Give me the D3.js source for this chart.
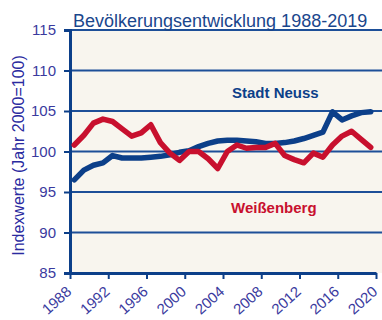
<!DOCTYPE html>
<html>
<head>
<meta charset="utf-8">
<script src="https://cdn.jsdelivr.net/npm/d3@7"></script>
<style>
  html, body { margin: 0; padding: 0; background: #ffffff; }
  svg { display: block; }
  text { font-family: "Liberation Sans", Arial, sans-serif; }
</style>
</head>
<body>
<svg id="chart" width="382" height="320"></svg>
<script>
// Population index (year 2000 = 100)
const years = d3.range(1988, 2020);
const neuss = [96.5, 97.7, 98.3, 98.6, 99.5, 99.2, 99.2, 99.2, 99.3, 99.4,
               99.6, 99.9, 100.1, 100.6, 101.0, 101.3, 101.4, 101.4, 101.3, 101.2,
               101.0, 101.0, 101.1, 101.3, 101.6, 102.0, 102.4, 104.9, 103.9, 104.4,
               104.8, 104.9];
const weissenberg = [100.8, 102.0, 103.5, 104.0, 103.7, 102.8, 101.9, 102.3, 103.3, 101.1,
                     99.8, 98.9, 100.0, 100.0, 99.1, 97.9, 100.0, 100.8, 100.4, 100.5,
                     100.5, 101.0, 99.5, 99.0, 98.6, 99.8, 99.3, 100.8, 101.9, 102.5,
                     101.5, 100.5];
const yTicks = [85, 90, 95, 100, 105, 110, 115];
const xTicks = [1988, 1992, 1996, 2000, 2004, 2008, 2012, 2016, 2020];

const svg = d3.select("#chart");
const plotLeft = 70, plotRight = 382, plotTop = 30, plotBottom = 273;

const x = d3.scaleLinear().domain([1988, 2020]).range([70, 376]);
const y = d3.scaleLinear().domain([85, 115]).range([plotBottom, plotTop]);

const blue = "#0c3f89", red = "#c8102e", labelCol = "#3a3a9e";

// plot background
svg.append("rect")
  .attr("x", plotLeft).attr("y", plotTop)
  .attr("width", plotRight - plotLeft).attr("height", plotBottom - plotTop)
  .attr("fill", "#f8f5ee");

// horizontal grid lines
svg.append("g").selectAll("line")
  .data(yTicks.filter(v => v > 85))
  .join("line")
  .attr("x1", plotLeft).attr("x2", plotRight)
  .attr("y1", d => y(d)).attr("y2", d => y(d))
  .attr("stroke", "#1d4f98").attr("stroke-width", 2);

// y axis
const yAxis = svg.append("g")
  .attr("transform", `translate(${plotLeft},0)`)
  .call(d3.axisLeft(y).tickValues(yTicks).tickSize(6).tickPadding(8));
yAxis.select(".domain").attr("stroke", blue).attr("stroke-width", 3);
yAxis.selectAll(".tick line").attr("stroke", blue).attr("stroke-width", 2);
yAxis.selectAll(".tick text")
  .attr("fill", labelCol).attr("font-size", 15)
  .style("font-family", "Liberation Sans, Arial, sans-serif");

// x axis
const xAxis = svg.append("g")
  .attr("transform", `translate(0,${plotBottom})`)
  .call(d3.axisBottom(x).tickValues(xTicks).tickFormat(d3.format("d")).tickSize(6).tickSizeOuter(0));
xAxis.select(".domain").attr("stroke", blue).attr("stroke-width", 3);
xAxis.selectAll(".tick line").attr("stroke", blue).attr("stroke-width", 2);
xAxis.selectAll(".tick text")
  .attr("fill", labelCol).attr("font-size", 15)
  .style("font-family", "Liberation Sans, Arial, sans-serif")
  .attr("text-anchor", "end")
  .attr("dy", null).attr("y", 0)
  .attr("transform", "translate(2,20) rotate(-42)");

// lines
const line = d3.line()
  .x((d, i) => x(years[i] + 0.45))
  .y(d => y(d))
  .curve(d3.curveLinear);

svg.append("path").datum(neuss)
  .attr("d", line)
  .attr("fill", "none").attr("stroke", blue)
  .attr("stroke-width", 5.5).attr("stroke-linejoin", "round").attr("stroke-linecap", "round");

svg.append("path").datum(weissenberg)
  .attr("d", line)
  .attr("fill", "none").attr("stroke", red)
  .attr("stroke-width", 5.5).attr("stroke-linejoin", "round").attr("stroke-linecap", "round");

// series labels
svg.append("text").attr("x", 232).attr("y", 98)
  .attr("fill", blue).attr("font-size", 15).attr("font-weight", "bold")
  .text("Stadt Neuss");
svg.append("text").attr("x", 231).attr("y", 213)
  .attr("fill", red).attr("font-size", 15).attr("font-weight", "bold")
  .text("Weißenberg");

// title
svg.append("text").attr("x", 73).attr("y", 27)
  .attr("fill", "#1a468c").attr("font-size", 18)
  .text("Bevölkerungsentwicklung 1988-2019");

// y axis title
svg.append("text")
  .attr("transform", `translate(24,${(plotTop + plotBottom) / 2 + 4}) rotate(-90)`)
  .attr("text-anchor", "middle")
  .attr("fill", "#2a2aa0").attr("font-size", 16)
  .text("Indexwerte (Jahr 2000=100)");
</script>
</body>
</html>
